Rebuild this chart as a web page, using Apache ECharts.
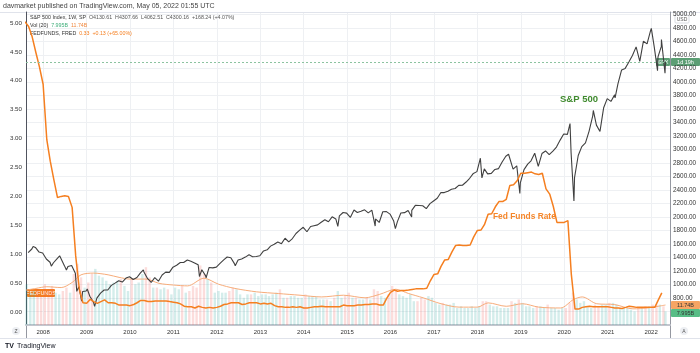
<!DOCTYPE html>
<html>
<head>
<meta charset="utf-8">
<script src="https://cdn.jsdelivr.net/npm/echarts@6/dist/echarts.min.js"></script>
<style>
  html, body { margin: 0; padding: 0; background: #fff; }
  #chart { width: 700px; height: 353px; }
</style>
</head>
<body>
<div id="chart"></div>
<script>
// S&P 500 month-end closes, Aug 2007 .. Apr 2022
const spxClose = [
  1473.99, 1526.75, 1549.38, 1481.14, 1468.36,
  1378.55, 1330.63, 1322.70, 1385.59, 1400.38, 1280.00, 1267.38, 1282.83, 1166.36, 968.75, 896.24, 903.25,
  825.88, 735.09, 797.87, 872.81, 919.14, 919.32, 987.48, 1020.62, 1057.08, 1036.19, 1095.63, 1115.10,
  1073.87, 1104.49, 1169.43, 1186.69, 1089.41, 1030.71, 1101.60, 1049.33, 1141.20, 1183.26, 1180.55, 1257.64,
  1286.12, 1327.22, 1325.83, 1363.61, 1345.20, 1320.64, 1292.28, 1218.89, 1131.42, 1253.30, 1246.96, 1257.60,
  1312.41, 1365.68, 1408.47, 1397.91, 1310.33, 1362.16, 1379.32, 1406.58, 1440.67, 1412.16, 1416.18, 1426.19,
  1498.11, 1514.68, 1569.19, 1597.57, 1630.74, 1606.28, 1685.73, 1632.97, 1681.55, 1756.54, 1805.81, 1848.36,
  1782.59, 1859.45, 1872.34, 1883.95, 1923.57, 1960.23, 1930.67, 2003.37, 1972.29, 2018.05, 2067.56, 2058.90,
  1994.99, 2104.50, 2067.89, 2085.51, 2107.39, 2063.11, 2103.84, 1972.18, 1920.03, 2079.36, 2080.41, 2043.94,
  1940.24, 1932.23, 2059.74, 2065.30, 2096.95, 2098.86, 2173.60, 2170.95, 2168.27, 2126.15, 2198.81, 2238.83,
  2278.87, 2363.64, 2362.72, 2384.20, 2411.80, 2423.41, 2470.30, 2471.65, 2519.36, 2575.26, 2647.58, 2673.61,
  2823.81, 2713.83, 2640.87, 2648.05, 2705.27, 2718.37, 2816.29, 2901.52, 2913.98, 2711.74, 2760.17, 2506.85,
  2704.10, 2784.49, 2834.40, 2945.83, 2752.06, 2941.76, 2980.38, 2926.46, 2976.74, 3037.56, 3140.98, 3230.78,
  3225.52, 2954.22, 2584.59, 2912.43, 3044.31, 3100.29, 3271.12, 3500.31, 3363.00, 3269.96, 3621.63, 3756.07,
  3714.24, 3811.15, 3972.89, 4181.17, 4204.11, 4297.50, 4395.26, 4522.68, 4307.54, 4605.38, 4567.00, 4766.18,
  4515.55, 4373.94, 4530.41, 4131.93
];
// intra-month highs / lows that show up as wicks on the weekly chart, plus the last weekly close
const spxExtremes = [
  ['2007-10-09', 1565], ['2008-03-10', 1273], ['2008-05-19', 1426], ['2008-07-15', 1214],
  ['2008-10-10', 899], ['2008-11-20', 752], ['2009-01-06', 934], ['2009-03-09', 677],
  ['2010-04-23', 1217], ['2010-07-02', 1022], ['2011-04-29', 1364], ['2011-08-08', 1119],
  ['2011-10-03', 1099], ['2012-06-04', 1278], ['2014-10-15', 1862], ['2015-08-25', 1867],
  ['2016-02-11', 1829], ['2016-06-27', 2000], ['2018-01-26', 2873], ['2018-02-08', 2581],
  ['2018-09-20', 2931], ['2018-12-24', 2351], ['2019-06-03', 2744], ['2020-02-19', 3386],
  ['2020-03-23', 2237], ['2020-09-02', 3580], ['2021-03-04', 3768], ['2022-01-03', 4796],
  ['2022-02-24', 4170], ['2022-03-29', 4631], ['2022-05-02', 4300.16]
];
const spxLast = 4300.16;

// FEDFUNDS monthly, Aug 2007 .. Apr 2022
const fedFunds = [
  5.02, 4.94, 4.76, 4.49, 4.24,
  3.94, 2.98, 2.61, 2.28, 1.98, 2.00, 2.01, 2.00, 1.81, 0.97, 0.39, 0.16,
  0.15, 0.22, 0.18, 0.15, 0.18, 0.21, 0.16, 0.16, 0.15, 0.12, 0.12, 0.12,
  0.11, 0.13, 0.16, 0.20, 0.20, 0.18, 0.18, 0.19, 0.19, 0.19, 0.19, 0.18,
  0.17, 0.16, 0.14, 0.10, 0.09, 0.09, 0.07, 0.10, 0.08, 0.07, 0.08, 0.07,
  0.08, 0.10, 0.13, 0.14, 0.16, 0.16, 0.16, 0.13, 0.14, 0.16, 0.16, 0.16,
  0.14, 0.15, 0.14, 0.15, 0.11, 0.09, 0.09, 0.08, 0.08, 0.09, 0.08, 0.09,
  0.07, 0.07, 0.08, 0.09, 0.09, 0.10, 0.09, 0.09, 0.09, 0.09, 0.09, 0.12,
  0.11, 0.11, 0.11, 0.12, 0.12, 0.13, 0.13, 0.14, 0.14, 0.12, 0.12, 0.24,
  0.34, 0.38, 0.36, 0.37, 0.37, 0.38, 0.39, 0.40, 0.40, 0.40, 0.41, 0.54,
  0.65, 0.66, 0.79, 0.90, 0.91, 1.04, 1.15, 1.16, 1.15, 1.15, 1.16, 1.30,
  1.41, 1.42, 1.51, 1.69, 1.70, 1.82, 1.91, 1.91, 1.95, 2.19, 2.20, 2.27,
  2.40, 2.40, 2.41, 2.42, 2.39, 2.38, 2.40, 2.13, 2.04, 1.83, 1.55, 1.55,
  1.55, 1.58, 0.65, 0.05, 0.05, 0.08, 0.09, 0.10, 0.09, 0.09, 0.09, 0.09,
  0.09, 0.08, 0.07, 0.07, 0.06, 0.08, 0.10, 0.09, 0.08, 0.08, 0.08, 0.08,
  0.08, 0.08, 0.20, 0.33
];

// weekly volume (billions), one typical bar per month, Aug 2007 .. May 2022
const volume = [
  24, 19, 20, 21, 17,
  24, 21, 23, 19, 18, 20, 22, 19, 30, 36, 28, 22,
  25, 30, 33, 29, 28, 26, 24, 25, 26, 27, 23, 20,
  27, 24, 25, 30, 34, 28, 22, 22, 21, 22, 21, 18,
  22, 21, 23, 19, 20, 23, 22, 35, 30, 27, 25, 19,
  20, 19, 19, 20, 22, 21, 18, 16, 18, 18, 19, 17,
  18, 18, 17, 18, 19, 21, 16, 16, 17, 17, 16, 16,
  18, 17, 17, 17, 15, 15, 15, 14, 16, 20, 16, 17,
  19, 16, 16, 15, 15, 16, 15, 21, 20, 17, 16, 18,
  23, 21, 18, 17, 16, 18, 14, 14, 16, 15, 17, 16,
  13, 12, 13, 12, 12, 13, 10, 11, 10, 10, 11, 10,
  11, 14, 14, 12, 11, 11, 10, 10, 10, 14, 13, 15,
  13, 11, 11, 10, 11, 11, 10, 12, 10, 10, 9, 10,
  10, 13, 19, 15, 13, 14, 11, 10, 12, 11, 12, 12,
  13, 13, 12, 10, 10, 10, 9, 8, 10, 10, 11, 11,
  12, 12, 12, 11, 7.995
];

// Vol (20) moving average
const volumeMa = [
  ['2007-08-10', 20.5], ['2007-11-01', 21.5], ['2008-02-01', 22.5], ['2008-06-01', 22],
  ['2008-09-01', 25], ['2008-11-15', 29.5], ['2009-03-01', 30.5], ['2009-07-01', 29.5],
  ['2009-10-01', 28], ['2010-01-01', 27], ['2010-05-15', 27], ['2010-09-01', 24.5],
  ['2011-01-01', 23.5], ['2011-05-01', 23], ['2011-09-15', 27.5], ['2012-01-15', 24],
  ['2012-06-01', 21.5], ['2012-12-01', 19.5], ['2013-06-01', 18.5], ['2013-12-01', 17.5],
  ['2014-06-01', 16.5], ['2014-12-01', 17.5], ['2015-06-01', 16], ['2015-10-01', 18],
  ['2016-02-15', 21], ['2016-06-01', 18.5], ['2016-10-01', 16], ['2017-03-01', 12.5],
  ['2017-08-01', 10.5], ['2018-01-01', 10.5], ['2018-04-01', 13], ['2018-09-01', 11],
  ['2019-01-15', 12.5], ['2019-06-01', 10.5], ['2019-12-01', 10], ['2020-03-20', 15],
  ['2020-06-01', 16.5], ['2020-10-01', 12.5], ['2021-03-01', 12], ['2021-08-01', 9.5],
  ['2021-12-01', 10], ['2022-03-01', 11], ['2022-05-02', 11.74]
];

const yearTicks = [2008, 2009, 2010, 2011, 2012, 2013, 2014, 2015, 2016, 2017, 2018, 2019, 2020, 2021, 2022];
const leftTicks = [0, 0.5, 1, 1.5, 2, 2.5, 3, 3.5, 4, 4.5, 5];

const month = (i, day) => Date.UTC(2007, 7 + i, day);

const spxData = spxClose.map((v, i) => [month(i, 28), v])
  .concat(spxExtremes.map(d => [Date.parse(d[0]), d[1]]))
  .sort((a, b) => a[0] - b[0]);

const fedData = fedFunds.map((v, i) => [month(i, 1), v]);

const spxMonthly = spxClose.concat([spxLast]);
const volData = volume.map((v, i) => ({
  value: [i === volume.length - 1 ? Date.UTC(2022, 4, 2) : month(i, 15), v],
  itemStyle: {
    color: i === 0 || spxMonthly[i] >= spxMonthly[i - 1] ? 'rgba(38,166,154,0.2)' : 'rgba(239,83,80,0.2)'
  }
}));
const volMaData = volumeMa.map(d => [Date.parse(d[0]), d[1]]);
const yearStarts = yearTicks.map(y => Date.UTC(y, 0, 1));

const FONT = 'Liberation Sans, Arial, sans-serif';
const ORANGE = '#f57f20';
const GREEN = '#5c9e74';

const chart = echarts.init(document.getElementById('chart'), null, { renderer: 'canvas' });

const option = {
  animation: false,
  backgroundColor: '#ffffff',
  textStyle: { fontFamily: FONT },
  grid: { left: 26, right: 30, top: 12, bottom: 28 },
  xAxis: {
    type: 'value',
    min: Date.UTC(2007, 7, 10),
    max: Date.UTC(2022, 5, 9),
    axisLine: { show: true, onZero: false, lineStyle: { color: '#c3c6ce', width: 2 } },
    axisTick: { show: false, customValues: yearStarts },
    axisLabel: {
      customValues: yearStarts,
      formatter: v => String(new Date(v).getUTCFullYear()),
      fontSize: 6,
      color: '#333',
      margin: 4
    },
    splitLine: { show: true, lineStyle: { color: '#eef0f3', width: 1 } }
  },
  yAxis: [
    {
      type: 'value',
      position: 'left',
      min: -0.225,
      max: 5.19,
      axisLine: { show: true, lineStyle: { color: '#50535e', width: 1 } },
      axisTick: { show: false },
      axisLabel: {
        customValues: leftTicks,
        formatter: v => v.toFixed(2),
        fontSize: 6.2,
        color: '#333',
        margin: 4
      },
      splitLine: { show: false }
    },
    {
      type: 'value',
      position: 'right',
      min: 400,
      max: 5040,
      interval: 200,
      axisLine: { show: true, lineStyle: { color: '#9598a1', width: 1 } },
      axisTick: { show: false },
      axisLabel: {
        formatter: v => (v < 800 ? '' : v.toFixed(2)),
        fontSize: 6.4,
        color: '#333',
        margin: 3
      },
      splitLine: { show: true, lineStyle: { color: '#eef0f3', width: 1 } }
    },
    {
      type: 'value',
      show: false,
      min: 0,
      max: 184
    }
  ],
  series: [
    {
      name: 'Volume',
      type: 'bar',
      yAxisIndex: 2,
      barWidth: 2.4,
      data: volData,
      z: 1
    },
    {
      name: 'Vol (20)',
      type: 'line',
      yAxisIndex: 2,
      data: volMaData,
      smooth: 0.3,
      showSymbol: false,
      lineStyle: { color: '#f7ac7a', width: 1 },
      z: 2
    },
    {
      name: 'S&P 500',
      type: 'line',
      yAxisIndex: 1,
      data: spxData,
      showSymbol: false,
      lineStyle: { color: '#404040', width: 1.1 },
      markLine: {
        silent: true,
        symbol: 'none',
        label: { show: false },
        lineStyle: { color: '#8cc3a0', type: [2, 2], width: 1 },
        data: [{ yAxis: spxLast }]
      },
      z: 3
    },
    {
      name: 'FEDFUNDS',
      type: 'line',
      yAxisIndex: 0,
      data: fedData,
      showSymbol: false,
      lineStyle: { color: ORANGE, width: 1.5 },
      z: 4
    }
  ]
};

chart.setOption(option);

// tags that hang on the scales, placed from the values
const ySpx = chart.convertToPixel({ yAxisIndex: 1 }, spxLast);
const yFed = chart.convertToPixel({ yAxisIndex: 0 }, fedFunds[fedFunds.length - 1]);
const yVolMa = chart.convertToPixel({ yAxisIndex: 2 }, 11.74);
const yVol = Math.max(chart.convertToPixel({ yAxisIndex: 2 }, 7.995), yVolMa + 8);

function tag(x, y, w, text, fill, color) {
  return {
    type: 'group',
    children: [
      { type: 'rect', shape: { x: x, y: y - 4, width: w, height: 8, r: 1 }, style: { fill: fill } },
      {
        type: 'text', x: x + w / 2, y: y + 0.5,
        style: { text: text, fill: color, font: '5.5px ' + FONT, align: 'center', verticalAlign: 'middle' }
      }
    ]
  };
}

function txt(x, y, text, fill, font) {
  return { type: 'text', x: x, y: y, style: { text: text, fill: fill, font: font || ('5.3px ' + FONT), verticalAlign: 'middle' } };
}

// one legend row built from coloured pieces, the gaps kept inside the small font
function legendRow(x, y, pieces) {
  const rich = {};
  const parts = pieces.map((p, i) => {
    rich['p' + i] = { fill: p[1], fontSize: 5.3, fontFamily: FONT };
    return '{p' + i + '|' + p[0] + (i < pieces.length - 1 ? '  ' : '') + '}';
  });
  return {
    type: 'text', x: x, y: y,
    style: { text: parts.join(''), rich: rich, fontSize: 5.3, verticalAlign: 'middle' }
  };
}

chart.setOption({
  graphic: [
    txt(3, 6, 'davmarket published on TradingView.com, May 05, 2022 01:55 UTC', '#444', '7px ' + FONT),
    { type: 'line', shape: { x1: 0, y1: 12.5, x2: 700, y2: 12.5 }, style: { stroke: '#e0e3eb' } },
    { type: 'line', shape: { x1: 0, y1: 338.5, x2: 700, y2: 338.5 }, style: { stroke: '#e0e3eb' } },
    { type: 'line', shape: { x1: 26.5, y1: 325, x2: 26.5, y2: 338 }, style: { stroke: '#9598a1' } },
    { type: 'line', shape: { x1: 670.5, y1: 325, x2: 670.5, y2: 338 }, style: { stroke: '#9598a1' } },

    legendRow(30, 18, [
      ['S&P 500 Index, 1W, SP', '#333'], ['O4130.61', '#555'], ['H4307.66', '#555'],
      ['L4062.51', '#555'], ['C4300.16', '#555'], ['+168.24 (+4.07%)', '#555']
    ]),
    legendRow(30, 26, [['Vol (20)', '#333'], ['7.995B', '#3fae7a'], ['11.74B', '#f0883e']]),
    legendRow(30, 34, [['FEDFUNDS, FRED', '#333'], ['0.33', ORANGE], ['+0.13 (+65.00%)', ORANGE]]),

    txt(560, 99, 'S&P 500', '#3f8a2e', 'bold 9.5px ' + FONT),
    txt(493, 217, 'Fed Funds Rate', '#f5862a', 'bold 8.4px ' + FONT),

    tag(27, yFed, 28, 'FEDFUNDS', ORANGE, '#fff'),
    tag(656, ySpx, 14, 'SPX', GREEN, '#fff'),
    tag(671, ySpx, 29, '1d 19h', GREEN, '#fff'),
    tag(671, yVolMa, 29, '11.74B', '#f7a564', '#333'),
    tag(671, yVol, 29, '7.995B', '#58bd86', '#333'),

    { type: 'rect', shape: { x: 675, y: 15, width: 14, height: 8, r: 1 }, style: { fill: '#fff', stroke: '#d1d4dc', lineWidth: 0.8 } },
    { type: 'text', x: 682, y: 19.5, style: { text: 'USD', fill: '#555', font: '5px ' + FONT, align: 'center', verticalAlign: 'middle' } },

    { type: 'circle', shape: { cx: 16, cy: 331, r: 4 }, style: { fill: '#eceef2' } },
    { type: 'text', x: 16, y: 331.5, style: { text: 'Z', fill: '#555', font: '5px ' + FONT, align: 'center', verticalAlign: 'middle' } },
    { type: 'circle', shape: { cx: 684, cy: 331, r: 4 }, style: { fill: '#eceef2' } },
    { type: 'text', x: 684, y: 331.5, style: { text: 'A', fill: '#555', font: '5px ' + FONT, align: 'center', verticalAlign: 'middle' } },

    txt(5, 346, 'TV', '#131722', 'bold 7px ' + FONT),
    txt(17, 346, 'TradingView', '#131722', '7px ' + FONT)
  ]
});
</script>
</body>
</html>
